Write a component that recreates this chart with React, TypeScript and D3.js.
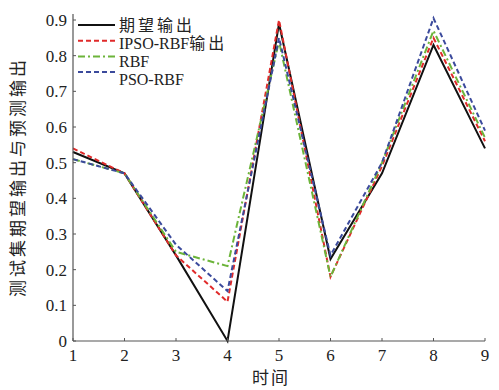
import React from "react";
import * as d3 from "d3";

const times = [1, 2, 3, 4, 5, 6, 7, 8, 9];
const expected = [0.53, 0.47, 0.24, 0.0, 0.89, 0.23, 0.47, 0.83, 0.54];
const ipsoRbf = [0.54, 0.47, 0.24, 0.11, 0.9, 0.18, 0.49, 0.85, 0.56];
const rbf = [0.51, 0.47, 0.25, 0.21, 0.84, 0.18, 0.5, 0.87, 0.57];
const psoRbf = [0.51, 0.47, 0.27, 0.14, 0.85, 0.24, 0.5, 0.905, 0.59];
const yTicks = [0, 0.1, 0.2, 0.3, 0.4, 0.5, 0.6, 0.7, 0.8, 0.9];
const seriesNames = ["期望输出", "IPSO-RBF输出", "RBF", "PSO-RBF"];

const series = [
  { name: seriesNames[0], values: expected, color: "#111111", dash: "", width: 2 },
  { name: seriesNames[1], values: ipsoRbf, color: "#e02a2a", dash: "5,3", width: 2 },
  { name: seriesNames[2], values: rbf, color: "#6cb43a", dash: "7,3,2,3", width: 2 },
  { name: seriesNames[3], values: psoRbf, color: "#3b4a9c", dash: "5,3", width: 2 },
];

const W = 499, H = 390;
const left = 73, right = 485, top = 20, bottom = 341;
const font = "'Liberation Serif', 'Noto Sans CJK SC', serif";

function Label({ text }: { text: string }) {
  const parts = text.match(/[\u4e00-\u9fff]+|[^\u4e00-\u9fff]+/g) || [];
  return (
    <>
      {parts.map((p, i) => (
        <tspan key={i} letterSpacing={/[\u4e00-\u9fff]/.test(p) ? 3 : 0}>{p}</tspan>
      ))}
    </>
  );
}

export default function App() {
  const x = d3.scaleLinear().domain([1, 9]).range([left, right]);
  const y = d3.scaleLinear().domain([0, 0.9]).range([bottom, top]);
  const line = d3.line<number>().x((_, i) => x(times[i])).y((d) => y(d));
  return (
    <svg width={W} height={H} style={{ position: "absolute", left: 0, top: 0, background: "#fff" }}>
      {series.map((s) => (
        <path key={s.name} d={line(s.values) || ""} fill="none" stroke={s.color}
          strokeWidth={s.width} strokeDasharray={s.dash} strokeLinejoin="miter" />
      ))}
      <line x1={left} x2={left} y1={top - 6} y2={bottom} stroke="#555" strokeWidth={1.2} />
      <line x1={left} x2={right} y1={bottom} y2={bottom} stroke="#555" strokeWidth={1.2} />
      {yTicks.map((t) => (
        <g key={t}>
          <line x1={left} x2={left + 3} y1={y(t)} y2={y(t)} stroke="#555" />
          <text x={left - 6} y={y(t)} dy="0.35em" textAnchor="end" fontSize={17} fontFamily={font} fill="#222">
            {t === 0 ? "0" : t.toFixed(1)}
          </text>
        </g>
      ))}
      {times.map((t) => (
        <g key={t}>
          <line x1={x(t)} x2={x(t)} y1={bottom} y2={bottom - 3} stroke="#555" />
          <text x={x(t)} y={bottom + 20} textAnchor="middle" fontSize={17} fontFamily={font} fill="#222">
            {t}
          </text>
        </g>
      ))}
      <text x={271} y={384} textAnchor="middle" fontSize={17} fontFamily={font} fill="#222" letterSpacing={2}>时间</text>
      <text transform={`translate(24,177) rotate(-90)`} textAnchor="middle"
        fontSize={17} fontFamily={font} fill="#222" letterSpacing={3}>测试集期望输出与预测输出</text>
      {series.map((s, i) => {
        const ly = 25 + i * 15.7;
        const ty = 25 + i * 18;
        return (
          <g key={s.name}>
            <line x1={78} x2={115} y1={ly} y2={ly} stroke={s.color} strokeWidth={s.width} strokeDasharray={s.dash} />
            <text x={119} y={ty} dy="0.35em" fontSize={16} fontFamily={font} fill="#222"><Label text={s.name} /></text>
          </g>
        );
      })}
    </svg>
  );
}
